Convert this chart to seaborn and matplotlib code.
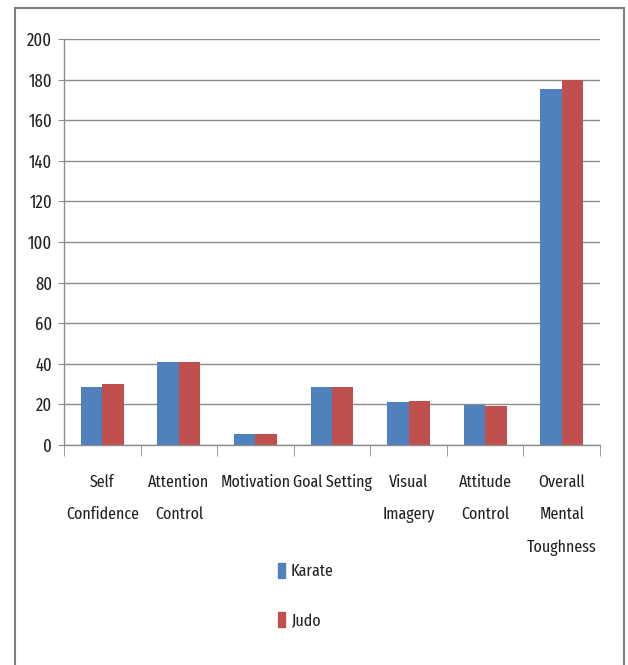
import pandas as pd
import matplotlib
matplotlib.use("Agg")
import matplotlib.pyplot as plt
import seaborn as sns
from matplotlib.patches import Rectangle

categories = ["Self\nConfidence", "Attention\nControl", "Motivation", "Goal Setting",
              "Visual\nImagery", "Attitude\nControl", "Overall\nMental\nToughness"]
karate = [28.7, 41, 5.3, 28.6, 21, 19.7, 175.5]
judo = [30, 41, 5.3, 28.6, 21.5, 19, 180]
series = ["Karate", "Judo"]
colors = ["#4F81BD", "#C0504D"]

df = pd.DataFrame({
    "category": categories * 2,
    "value": karate + judo,
    "series": [series[0]] * len(categories) + [series[1]] * len(categories),
})

sns.set_style("white")
plt.rcParams["font.family"] = ["Fira Sans Extra Condensed", "DejaVu Sans"]
plt.rcParams["text.color"] = "#222222"
plt.rcParams["xtick.color"] = "#222222"
plt.rcParams["ytick.color"] = "#222222"

fig = plt.figure(figsize=(6.28, 6.65), dpi=100)
ax = fig.add_axes([64 / 628, 1 - 445 / 665, (600 - 64) / 628, (445 - 39) / 665])

sns.barplot(df, x="category", y="value", hue="series", palette=colors,
            width=0.56, ax=ax, legend=False, saturation=1, linewidth=0)

ax.set_ylim(0, 200)
ax.set_yticks(range(0, 201, 20))
ax.set_xlim(-0.5, len(categories) - 0.5)
ax.yaxis.grid(True, color="#8c8c8c", linewidth=1)
ax.set_axisbelow(True)
ax.set_xlabel("")
ax.set_ylabel("")
for s in ["top", "right"]:
    ax.spines[s].set_visible(False)
for s in ["left", "bottom"]:
    ax.spines[s].set_color("#8c8c8c")
    ax.spines[s].set_linewidth(1)

ax.tick_params(axis="y", left=True, length=4, color="#8c8c8c", labelsize=13, pad=4.5)
ax.tick_params(axis="x", which="major", length=0, labelsize=12.5, pad=21)
ax.set_xticks([i - 0.5 for i in range(len(categories) + 1)], minor=True)
ax.tick_params(axis="x", which="minor", bottom=True, length=8, color="#8c8c8c")
for lbl in ax.get_xticklabels():
    lbl.set_linespacing(2.3)
    lbl.set_verticalalignment("top")

# legend below the chart, stacked vertically
handles = [Rectangle((0, 0), 1, 1, color=c) for c in colors]
fig.legend(handles, series, loc="upper left", bbox_to_anchor=(262 / 628, 1 - 547 / 665),
           frameon=False, fontsize=12.5, handlelength=0.45, handleheight=0.95,
           handletextpad=0.3, labelspacing=1.9)

# outer border
fig.patches.append(Rectangle((15 / 628, -0.05), (624 - 15) / 628, 1.05 - 8 / 665,
                             transform=fig.transFigure, fill=False,
                             edgecolor="#808080", linewidth=1.5))

fig.savefig("out.png", dpi=100)
